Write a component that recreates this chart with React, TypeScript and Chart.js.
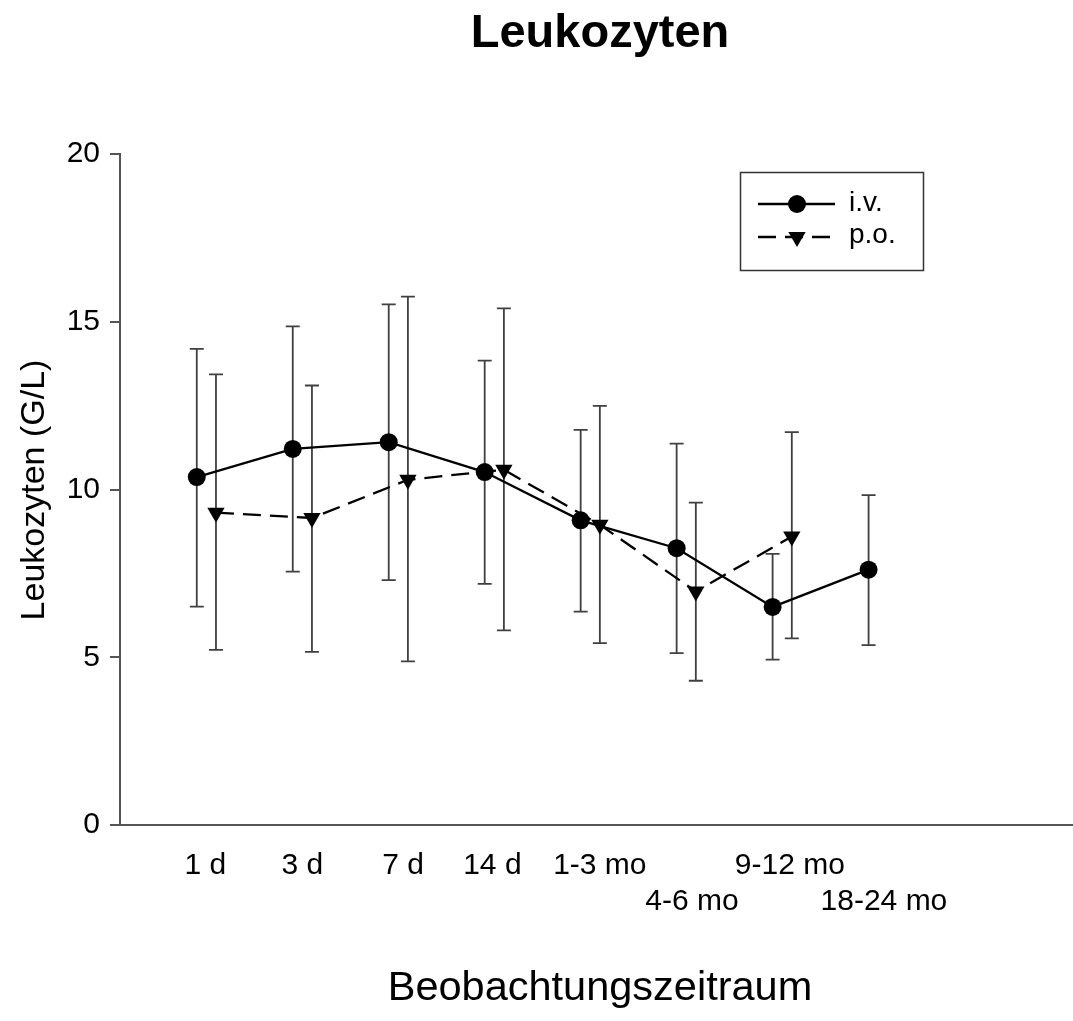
import React, { useEffect, useRef } from "react";
import { Chart, registerables } from "chart.js";

Chart.register(...registerables);

// ---- data ----
const categories = ["1 d", "3 d", "7 d", "14 d", "1-3 mo", "4-6 mo", "9-12 mo", "18-24 mo"];
const labelRow = [0, 0, 0, 0, 0, 1, 0, 1];
const tickPositions = [1.09, 2.1, 3.15, 4.08, 5.2, 6.16, 7.18, 8.16];

const ivX = [1, 2, 3, 4, 5, 6, 7, 8];
const ivMean = [10.37, 11.21, 11.41, 10.52, 9.08, 8.25, 6.5, 7.61];
const ivUpper = [14.19, 14.86, 15.52, 13.84, 11.78, 11.37, 8.08, 9.83];
const ivLower = [6.51, 7.55, 7.3, 7.19, 6.36, 5.12, 4.93, 5.36];

const poX = [1.2, 2.2, 3.2, 4.2, 5.2, 6.2, 7.2];
const poMean = [9.31, 9.15, 10.29, 10.59, 8.95, 6.96, 8.6];
const poUpper = [13.43, 13.1, 15.75, 15.4, 12.49, 9.61, 11.71];
const poLower = [5.22, 5.16, 4.88, 5.8, 5.42, 4.3, 5.56];

const seriesNames = ["i.v.", "p.o."];
const chartTitle = "Leukozyten";
const xTitle = "Beobachtungszeitraum";
const yTitle = "Leukozyten (G/L)";

const FONT = "'Liberation Sans', Arial, Helvetica, sans-serif";
const AXIS_COLOR = "#555555";
const ERR_COLOR = "#404040";
const DASH = [18, 9];

function drawTriangleDown(ctx: CanvasRenderingContext2D, x: number, y: number, r: number) {
  ctx.beginPath();
  ctx.moveTo(x, y + r);
  ctx.lineTo(x - r * 0.866, y - r * 0.5);
  ctx.lineTo(x + r * 0.866, y - r * 0.5);
  ctx.closePath();
  ctx.fill();
}

const errorBarPlugin = {
  id: "errorBars",
  beforeDatasetsDraw(chart: any) {
    const { ctx, scales } = chart;
    const xs = scales.x;
    const ys = scales.y;
    const groups = [
      { x: ivX, lo: ivLower, hi: ivUpper },
      { x: poX, lo: poLower, hi: poUpper },
    ];
    ctx.save();
    ctx.strokeStyle = ERR_COLOR;
    ctx.lineWidth = 1.8;
    for (const g of groups) {
      g.x.forEach((xv, i) => {
        const px = xs.getPixelForValue(xv);
        const pLo = ys.getPixelForValue(g.lo[i]);
        const pHi = ys.getPixelForValue(g.hi[i]);
        ctx.beginPath();
        ctx.moveTo(px, pLo);
        ctx.lineTo(px, pHi);
        ctx.moveTo(px - 7, pLo);
        ctx.lineTo(px + 7, pLo);
        ctx.moveTo(px - 7, pHi);
        ctx.lineTo(px + 7, pHi);
        ctx.stroke();
      });
    }
    ctx.restore();
  },
};

const textPlugin = {
  id: "texts",
  afterDraw(chart: any) {
    const { ctx } = chart;
    ctx.save();
    ctx.fillStyle = "#000";
    // title
    ctx.font = `bold 47px ${FONT}`;
    ctx.textAlign = "center";
    ctx.textBaseline = "alphabetic";
    ctx.fillText(chartTitle, 600, 47);
    // x title
    ctx.font = `41.5px ${FONT}`;
    ctx.fillText(xTitle, 600, 1000);
    // y title
    ctx.save();
    ctx.translate(35, 490);
    ctx.rotate(-Math.PI / 2);
    ctx.font = `34px ${FONT}`;
    ctx.textBaseline = "middle";
    ctx.fillText(yTitle, 0, 0);
    ctx.restore();

    // legend
    const bx = 740.5, by = 172.5, bw = 183, bh = 98;
    ctx.strokeStyle = "#333";
    ctx.lineWidth = 1.5;
    ctx.strokeRect(bx, by, bw, bh);
    const rows = [204, 237];
    ctx.strokeStyle = "#000";
    ctx.lineWidth = 2.3;
    // i.v.
    ctx.beginPath();
    ctx.moveTo(758, rows[0]);
    ctx.lineTo(835, rows[0]);
    ctx.stroke();
    ctx.beginPath();
    ctx.arc(797, rows[0], 9, 0, Math.PI * 2);
    ctx.fill();
    // p.o.
    ctx.setLineDash(DASH);
    ctx.beginPath();
    ctx.moveTo(758, rows[1]);
    ctx.lineTo(835, rows[1]);
    ctx.stroke();
    ctx.setLineDash([]);
    drawTriangleDown(ctx, 797, rows[1], 10);
    ctx.font = `28px ${FONT}`;
    ctx.textAlign = "left";
    ctx.textBaseline = "alphabetic";
    ctx.fillText(seriesNames[0], 849, 211);
    ctx.fillText(seriesNames[1], 849, 243);
    ctx.restore();
  },
};

export default function App() {
  const ref = useRef<HTMLCanvasElement | null>(null);

  useEffect(() => {
    if (!ref.current) return;
    const chart = new Chart(ref.current, {
      type: "line",
      data: {
        datasets: [
          {
            label: seriesNames[0],
            data: ivX.map((x, i) => ({ x, y: ivMean[i] })),
            borderColor: "#000",
            backgroundColor: "#000",
            borderWidth: 2.3,
            pointStyle: "circle",
            pointRadius: 9,
            pointBorderWidth: 0,
            pointBackgroundColor: "#000",
            tension: 0,
          },
          {
            label: seriesNames[1],
            data: poX.map((x, i) => ({ x, y: poMean[i] })),
            borderColor: "#000",
            backgroundColor: "#000",
            borderWidth: 2.3,
            borderDash: DASH,
            pointStyle: "triangle",
            rotation: 180,
            pointRadius: 10,
            pointBorderWidth: 0,
            pointBackgroundColor: "#000",
            tension: 0,
          },
        ],
      },
      options: {
        animation: false,
        responsive: true,
        maintainAspectRatio: false,
        layout: { autoPadding: false, padding: { top: 154, left: 0, right: 0, bottom: 0 } },
        plugins: {
          legend: { display: false },
          title: { display: false },
          tooltip: { enabled: false },
        },
        scales: {
          x: {
            type: "linear",
            min: 0.2,
            max: 10.13,
            grid: { display: false, drawTicks: false },
            border: { display: true, color: AXIS_COLOR, width: 2 },
            ticks: {
              autoSkip: false,
              maxRotation: 0,
              minRotation: 0,
              padding: 23,
              color: "#000",
              font: { family: FONT, size: 30, lineHeight: 1.2 },
              callback: (_v: any, i: number) =>
                labelRow[i] === 1 ? ["", categories[i]] : categories[i],
            },
            afterBuildTicks: (s: any) => {
              s.ticks = tickPositions.map((v) => ({ value: v }));
            },
            afterFit: (s: any) => {
              s.height = 196;
            },
          },
          y: {
            type: "linear",
            min: 0,
            max: 20,
            ticks: {
              stepSize: 5,
              padding: 10,
              color: "#000",
              font: { family: FONT, size: 30 },
            },
            grid: {
              drawOnChartArea: false,
              drawTicks: true,
              tickLength: 10,
              color: AXIS_COLOR,
              lineWidth: 2,
            },
            border: { display: true, color: AXIS_COLOR, width: 2 },
            afterFit: (s: any) => {
              s.width = 120;
            },
          },
        },
      },
      plugins: [errorBarPlugin, textPlugin],
    });
    return () => chart.destroy();
  }, []);

  return (
    <div style={{ position: "absolute", left: 0, top: 0, width: 1073, height: 1021, background: "#fff" }}>
      <canvas ref={ref} />
    </div>
  );
}
